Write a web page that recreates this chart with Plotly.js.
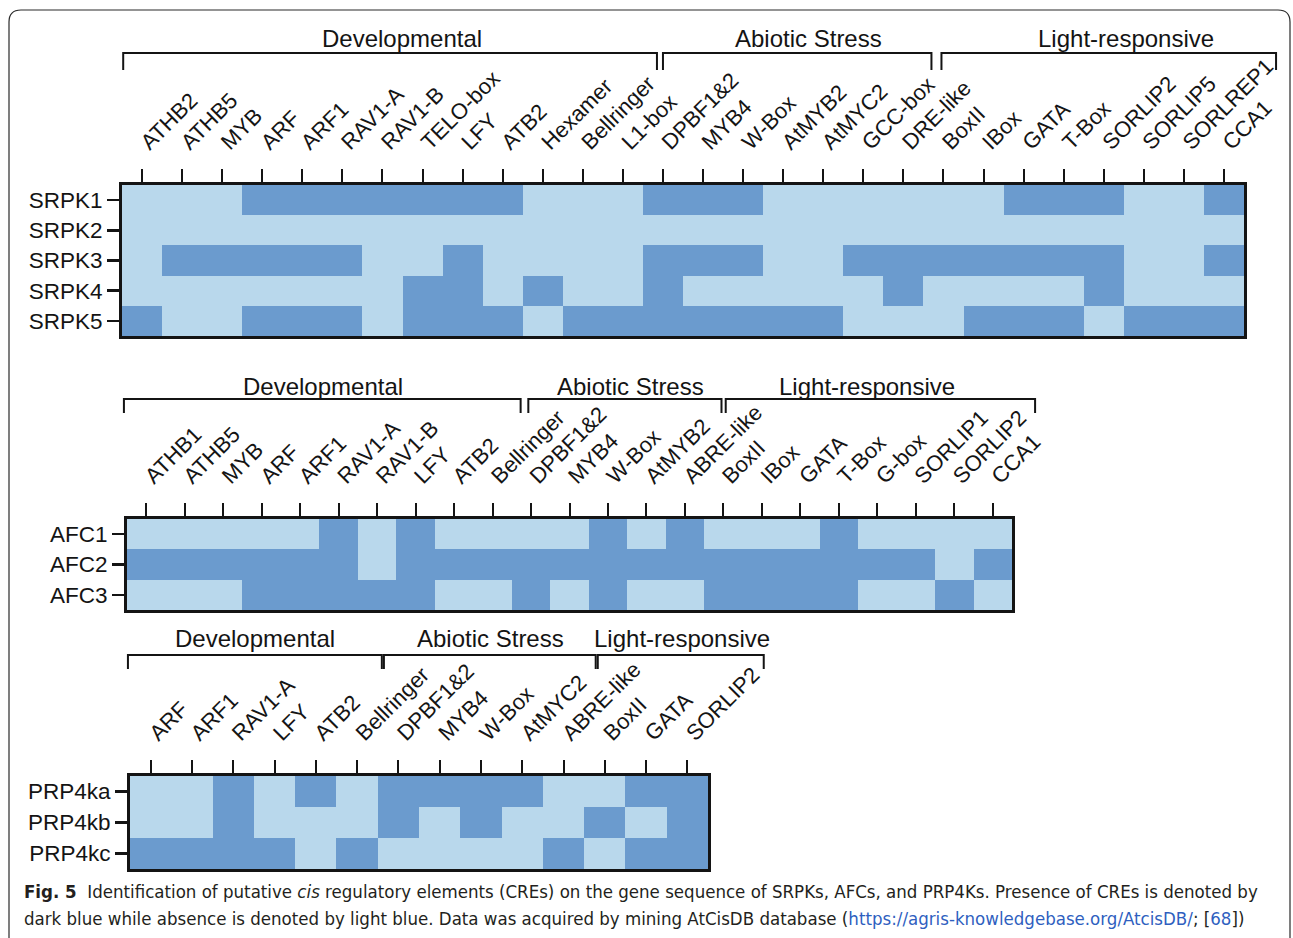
<!DOCTYPE html>
<html>
<head>
<meta charset="utf-8">
<script src="https://cdn.plot.ly/plotly-3.0.1.min.js"></script>
<style>
  html, body { margin: 0; padding: 0; background: #ffffff; }
  #fig { width: 1293px; height: 938px; }
</style>
</head>
<body>
<div id="fig"></div>
<script>
// ---- SRPK genes: presence (1) / absence (0) of each cis-regulatory element ----
const srpkGenes = ['SRPK1', 'SRPK2', 'SRPK3', 'SRPK4', 'SRPK5'];
const srpkElements = ['ATHB2', 'ATHB5', 'MYB', 'ARF', 'ARF1', 'RAV1-A', 'RAV1-B', 'TELO-box', 'LFY', 'ATB2',
  'Hexamer', 'Bellringer', 'L1-box', 'DPBF1&2', 'MYB4', 'W-Box', 'AtMYB2', 'AtMYC2', 'GCC-box', 'DRE-like',
  'BoxII', 'IBox', 'GATA', 'T-Box', 'SORLIP2', 'SORLIP5', 'SORLREP1', 'CCA1'];
const srpkGroupNames = ['Developmental', 'Abiotic Stress', 'Light-responsive'];
const srpkGroupSizes = [13, 7, 8];
const srpk1 = [0,0,0,1,1,1,1,1,1,1,0,0,0,1,1,1,0,0,0,0,0,0,1,1,1,0,0,1];
const srpk2 = [0,0,0,0,0,0,0,0,0,0,0,0,0,0,0,0,0,0,0,0,0,0,0,0,0,0,0,0];
const srpk3 = [0,1,1,1,1,1,0,0,1,0,0,0,0,1,1,1,0,0,1,1,1,1,1,1,1,0,0,1];
const srpk4 = [0,0,0,0,0,0,0,1,1,0,1,0,0,1,0,0,0,0,0,1,0,0,0,0,1,0,0,0];
const srpk5 = [1,0,0,1,1,1,0,1,1,1,0,1,1,1,1,1,1,1,0,0,0,1,1,1,0,1,1,1];

// ---- AFC genes ----
const afcGenes = ['AFC1', 'AFC2', 'AFC3'];
const afcElements = ['ATHB1', 'ATHB5', 'MYB', 'ARF', 'ARF1', 'RAV1-A', 'RAV1-B', 'LFY', 'ATB2', 'Bellringer',
  'DPBF1&2', 'MYB4', 'W-Box', 'AtMYB2', 'ABRE-like', 'BoxII', 'IBox', 'GATA', 'T-Box', 'G-box',
  'SORLIP1', 'SORLIP2', 'CCA1'];
const afcGroupNames = ['Developmental', 'Abiotic Stress', 'Light-responsive'];
const afcGroupSizes = [10, 4, 9];
const afc1 = [0,0,0,0,0,1,0,1,0,0,0,0,1,0,1,0,0,0,1,0,0,0,0];
const afc2 = [1,1,1,1,1,1,0,1,1,1,1,1,1,1,1,1,1,1,1,1,1,0,1];
const afc3 = [0,0,0,1,1,1,1,1,0,0,1,0,1,0,0,1,1,1,1,0,0,1,0];

// ---- PRP4K genes ----
const prpGenes = ['PRP4ka', 'PRP4kb', 'PRP4kc'];
const prpElements = ['ARF', 'ARF1', 'RAV1-A', 'LFY', 'ATB2', 'Bellringer', 'DPBF1&2', 'MYB4', 'W-Box', 'AtMYC2',
  'ABRE-like', 'BoxII', 'GATA', 'SORLIP2'];
const prpGroupNames = ['Developmental', 'Abiotic Stress', 'Light-responsive'];
const prpGroupSizes = [6, 4, 4];
const prp4ka = [0,0,1,0,1,0,1,1,1,1,0,0,1,1];
const prp4kb = [0,0,1,0,0,0,1,0,1,0,0,1,0,1];
const prp4kc = [1,1,1,1,0,1,0,0,0,0,1,0,1,1];

// ---- caption ----
const captionLine1 = '<b>Fig. 5</b>&nbsp;&nbsp;Identification of putative <i>cis</i> regulatory elements (CREs) on the gene sequence of SRPKs, AFCs, and PRP4Ks. Presence of CREs is denoted by';
const captionLine2 = 'dark blue while absence is denoted by light blue. Data was acquired by mining AtCisDB database (<span style="color:#2f5fbf">https://agris-knowledgebase.org/AtcisDB/</span>; [<span style="color:#2f5fbf">68</span>])';

// ---- styling / placement ----
const W = 1293, H = 938;
const LIGHT = '#b9d8ec', DARK = '#6b9bce', INK = '#141414';
const FONT = 'Liberation Sans, Arial, Helvetica, sans-serif';

// plot boxes in pixels; bracket spans and title centres are in column units from the left edge
const panels = [
  { genes: srpkGenes, elements: srpkElements, rows: [srpk1, srpk2, srpk3, srpk4, srpk5],
    groups: srpkGroupNames, sizes: srpkGroupSizes,
    box: { left: 122, right: 1244, top: 185, bottom: 336 },
    bracketY: 53, legY: 70, titleY: 39,
    spans: [[0.03, 13.35], [13.5, 20.2], [20.45, 28.8]], titles: [6.99, 17.14, 25.06] },
  { genes: afcGenes, elements: afcElements, rows: [afc1, afc2, afc3],
    groups: afcGroupNames, sizes: afcGroupSizes,
    box: { left: 127, right: 1012, top: 519, bottom: 610 },
    bracketY: 399, legY: 413, titleY: 386,
    spans: [[-0.08, 10.23], [10.43, 15.45], [15.56, 23.6]], titles: [5.09, 13.09, 19.22] },
  { genes: prpGenes, elements: prpElements, rows: [prp4ka, prp4kb, prp4kc],
    groups: prpGroupNames, sizes: prpGroupSizes,
    box: { left: 130, right: 708, top: 776, bottom: 869 },
    bracketY: 655, legY: 669, titleY: 638,
    spans: [[-0.05, 6.1], [6.15, 11.28], [11.33, 15.35]], titles: [3.03, 8.72, 13.37] }
];

const px = v => v / W;
const py = v => 1 - v / H;

const data = [];
const shapes = [];
const annotations = [];
const layout = {
  width: W, height: H, autosize: false,
  margin: { l: 0, r: 0, t: 0, b: 0, pad: 0 },
  paper_bgcolor: '#ffffff', plot_bgcolor: '#ffffff',
  font: { family: FONT, color: INK },
  showlegend: false
};

panels.forEach((p, i) => {
  const n = i === 0 ? '' : String(i + 1);
  const xName = 'x' + n, yName = 'y' + n;
  data.push({
    type: 'heatmap',
    x: p.elements, y: p.genes, z: p.rows,
    xaxis: xName, yaxis: yName,
    zmin: 0, zmax: 1,
    colorscale: [[0, LIGHT], [0.5, LIGHT], [0.5, DARK], [1, DARK]],
    showscale: false, xgap: 0, ygap: 0,
    hovertemplate: '%{y} · %{x}: %{z}<extra></extra>'
  });
  layout['xaxis' + n] = {
    domain: [px(p.box.left), px(p.box.right)], anchor: yName, side: 'top',
    type: 'category', tickmode: 'array', tickvals: p.elements, ticktext: p.elements,
    tickangle: -45, ticks: 'outside', ticklen: 13, tickwidth: 2, tickcolor: INK,
    ticklabelstandoff: 6,
    tickfont: { family: FONT, size: 22, color: INK },
    showline: true, mirror: true, linewidth: 3, linecolor: INK,
    showgrid: false, zeroline: false, fixedrange: true, automargin: false
  };
  layout['yaxis' + n] = {
    domain: [py(p.box.bottom), py(p.box.top)], anchor: xName,
    type: 'category', autorange: 'reversed',
    ticks: 'outside', ticklen: 12, tickwidth: 2.5, tickcolor: INK,
    ticklabelstandoff: 0,
    tickfont: { family: FONT, size: 22.5, color: INK },
    showline: true, mirror: true, linewidth: 3, linecolor: INK,
    showgrid: false, zeroline: false, fixedrange: true, automargin: false
  };

  // group brackets and titles above each panel
  const colW = (p.box.right - p.box.left) / p.elements.length;
  p.groups.forEach((g, k) => {
    const x0 = px(p.box.left + p.spans[k][0] * colW);
    const x1 = px(p.box.left + p.spans[k][1] * colW);
    const yb = py(p.bracketY), yl = py(p.legY);
    shapes.push({
      type: 'path', xref: 'paper', yref: 'paper',
      path: `M ${x0},${yl} L ${x0},${yb} L ${x1},${yb} L ${x1},${yl}`,
      line: { color: INK, width: 2 }
    });
    annotations.push({
      xref: 'paper', yref: 'paper',
      x: px(p.box.left + p.titles[k] * colW), y: py(p.titleY),
      xanchor: 'center', yanchor: 'middle', showarrow: false,
      text: g, font: { family: FONT, size: 24, color: INK }
    });
  });
});

// outer rounded frame (open at the bottom)
(function () {
  const l = px(9), r = px(1290), t = py(10), b = py(960);
  const rx = 12 / W, ry = 12 / H;
  shapes.push({
    type: 'path', xref: 'paper', yref: 'paper',
    path: `M ${l},${b} L ${l},${t - ry} Q ${l},${t} ${l + rx},${t} L ${r - rx},${t} Q ${r},${t} ${r},${t - ry} L ${r},${b}`,
    line: { color: '#2a2a2a', width: 1.2 }
  });
})();

// caption
const CAP_FONT = 'DejaVu Sans Condensed, Liberation Sans Narrow, Arial Narrow, sans-serif';
annotations.push({
  xref: 'paper', yref: 'paper', x: px(22), y: py(891), xanchor: 'left', yanchor: 'middle',
  showarrow: false, text: captionLine1, font: { family: CAP_FONT, size: 18.5, color: '#231f20' }
});
annotations.push({
  xref: 'paper', yref: 'paper', x: px(22), y: py(918), xanchor: 'left', yanchor: 'middle',
  showarrow: false, text: captionLine2, font: { family: CAP_FONT, size: 18.5, color: '#231f20' }
});

layout.shapes = shapes;
layout.annotations = annotations;

Plotly.newPlot('fig', data, layout, { staticPlot: true, displayModeBar: false });
</script>
</body>
</html>
